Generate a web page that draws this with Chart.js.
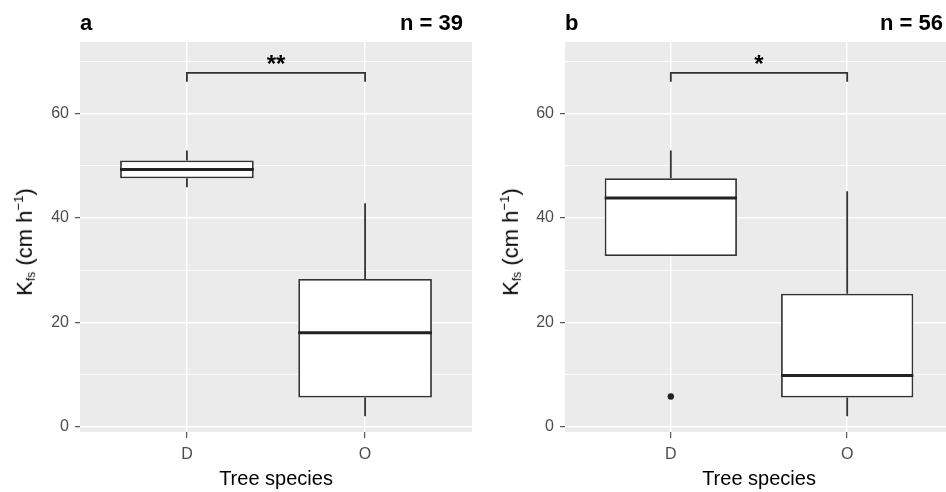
<!DOCTYPE html>
<html lang="en">
<head>
<meta charset="UTF-8">
<title>Kfs by tree species</title>
<script src="https://cdn.jsdelivr.net/npm/chart.js"></script>
<style>
    html, body { margin: 0; padding: 0; background: #fff; }
    body { width: 946px; height: 492px; overflow: hidden; position: relative; font-family: "Liberation Sans", Arial, sans-serif; }
    canvas { position: absolute; top: 0; }
    #pa { left: 0; }
    #pb { left: 473px; }
    .tag { position: absolute; top: 12px; font-weight: bold; font-size: 22px; line-height: 22px; color: #000; }
    .ytitle { position: absolute; font-size: 22px; line-height: 22px; white-space: nowrap; color: #000;
              transform: translate(-50%, -50%) rotate(-90deg); }
    .ytitle sub { font-size: 55%; vertical-align: -0.25em; }
    .ytitle sup { font-size: 60%; vertical-align: 0.7em; }
</style>
</head>
<body>
    <canvas id="pa" width="473" height="492"></canvas>
    <canvas id="pb" width="484" height="492"></canvas>

    <div class="tag" style="left:80px;">a</div>
    <div class="tag" style="right:483px;">n = 39</div>
    <div class="tag" style="left:565px;">b</div>
    <div class="tag" style="right:3px;">n = 56</div>

    <div class="ytitle" style="left:25px; top:242px;">K<sub>fs</sub> (cm h<sup>−1</sup>)</div>
    <div class="ytitle" style="left:511px; top:242px;">K<sub>fs</sub> (cm h<sup>−1</sup>)</div>

<script>
    var species = ['D', 'O'];
    var xPos = [1, 2];

    // panel a, n = 39
    var aLow  = [45.9, 2.0];
    var aQ1   = [47.6, 5.6];
    var aMed  = [49.3, 18.0];
    var aQ3   = [51.0, 28.3];
    var aHigh = [52.9, 42.8];
    var aOutX = [];
    var aOutY = [];

    // panel b, n = 56
    var bLow  = [32.7, 2.0];
    var bQ1   = [32.7, 5.6];
    var bMed  = [43.8, 9.8];
    var bQ3   = [47.6, 25.5];
    var bHigh = [52.9, 45.1];
    var bOutX = [1];
    var bOutY = [5.8];

    var yTicks = [0, 10, 20, 30, 40, 50, 60, 70];
    var yLabels = [0, 20, 40, 60];
    var bracketY = 67.8;
    var bracketTip = 66.1;
    var sigA = '**';
    var sigB = '*';

    Chart.defaults.font.family = '"Liberation Sans", Arial, sans-serif';

    function isMajor(c) {
        return c.tick && yLabels.indexOf(c.tick.value) >= 0;
    }

    function buildPanel(id, low, q1, med, q3, high, outX, outY, sig, yWidth, padRight) {
        var boxes = [], whiskers = [], outliers = [];
        xPos.forEach(function (x, i) {
            boxes.push({x: x, y: [q1[i], q3[i]]});
            whiskers.push({x: x, y: q3[i]}, {x: x, y: high[i]}, {x: x, y: null});
            whiskers.push({x: x, y: q1[i]}, {x: x, y: low[i]}, {x: x, y: null});
        });
        outX.forEach(function (x, i) { outliers.push({x: x, y: outY[i]}); });
        var bracket = [
            {x: xPos[0], y: bracketTip}, {x: xPos[0], y: bracketY},
            {x: xPos[1], y: bracketY}, {x: xPos[1], y: bracketTip}
        ];

        var panelPlugin = {
            id: 'panel' + id,
            beforeDraw: function (chart) {
                var a = chart.chartArea, ctx = chart.ctx;
                ctx.save();
                ctx.fillStyle = '#EBEBEB';
                ctx.fillRect(a.left, a.top, a.right - a.left, a.bottom - a.top);
                ctx.restore();
            },
            afterDatasetsDraw: function (chart) {
                var ctx = chart.ctx, ys = chart.scales.y, xs = chart.scales.x;
                var meta = chart.getDatasetMeta(1);
                ctx.save();
                ctx.strokeStyle = '#222';
                ctx.lineWidth = 3;
                meta.data.forEach(function (el, i) {
                    var py = ys.getPixelForValue(med[i]);
                    ctx.beginPath();
                    ctx.moveTo(el.x - el.width / 2, py);
                    ctx.lineTo(el.x + el.width / 2, py);
                    ctx.stroke();
                });
                ctx.fillStyle = '#000';
                ctx.font = 'bold 24px "Liberation Sans", Arial, sans-serif';
                ctx.textAlign = 'center';
                ctx.textBaseline = 'alphabetic';
                ctx.fillText(sig, xs.getPixelForValue((xPos[0] + xPos[1]) / 2), ys.getPixelForValue(bracketY) - 1);
                ctx.restore();
            }
        };

        return new Chart(document.getElementById(id), {
            type: 'bar',
            data: {
                datasets: [{
                    type: 'line',
                    data: whiskers,
                    borderColor: '#333',
                    borderWidth: 1.8,
                    pointRadius: 0,
                    fill: false,
                    spanGaps: false,
                    order: 3
                }, {
                    type: 'bar',
                    data: boxes,
                    backgroundColor: '#fff',
                    borderColor: '#333',
                    borderWidth: 1.8,
                    borderSkipped: false,
                    barPercentage: 0.75,
                    categoryPercentage: 1,
                    order: 2
                }, {
                    type: 'scatter',
                    data: outliers,
                    pointRadius: 3.2,
                    backgroundColor: '#222',
                    borderWidth: 0,
                    order: 1
                }, {
                    type: 'line',
                    data: bracket,
                    borderColor: '#333',
                    borderWidth: 1.8,
                    pointRadius: 0,
                    fill: false,
                    order: 0
                }]
            },
            options: {
                responsive: false,
                animation: false,
                layout: { padding: { top: 42, left: 0, right: padRight, bottom: 0 } },
                plugins: { legend: { display: false }, tooltip: { enabled: false } },
                scales: {
                    x: {
                        type: 'linear',
                        min: 0.4,
                        max: 2.6,
                        offset: false,
                        border: { display: false },
                        grid: { color: '#fff', lineWidth: 1.4, offset: false, tickColor: '#333', tickLength: 6, tickWidth: 1 },
                        afterBuildTicks: function (s) { s.ticks = xPos.map(function (v) { return {value: v}; }); },
                        ticks: {
                            callback: function (v) { return species[xPos.indexOf(v)]; },
                            color: '#4D4D4D',
                            font: { size: 16 },
                            padding: 7,
                            maxRotation: 0,
                            autoSkip: false
                        },
                        title: { display: true, text: 'Tree species', color: '#000', font: { size: 20 }, padding: { top: 0, bottom: 1 } },
                        afterFit: function (s) { s.height = 60; }
                    },
                    y: {
                        min: -1,
                        max: 73.7,
                        border: { display: false },
                        grid: {
                            color: '#fff',
                            lineWidth: function (c) { return isMajor(c) ? 1.4 : 0.7; },
                            tickColor: function (c) { return isMajor(c) ? '#333' : 'rgba(0,0,0,0)'; },
                            tickLength: 5,
                            tickWidth: 1
                        },
                        afterBuildTicks: function (s) { s.ticks = yTicks.map(function (v) { return {value: v}; }); },
                        ticks: {
                            callback: function (v) { return yLabels.indexOf(v) >= 0 ? String(v) : ''; },
                            color: '#4D4D4D',
                            font: { size: 16 },
                            padding: 6,
                            autoSkip: false
                        },
                        afterFit: function (s) { s.width = yWidth; }
                    }
                }
            },
            plugins: [panelPlugin]
        });
    }

    buildPanel('pa', aLow, aQ1, aMed, aQ3, aHigh, aOutX, aOutY, sigA, 80, 1);
    buildPanel('pb', bLow, bQ1, bMed, bQ3, bHigh, bOutX, bOutY, sigB, 92, 2);
</script>
</body>
</html>
